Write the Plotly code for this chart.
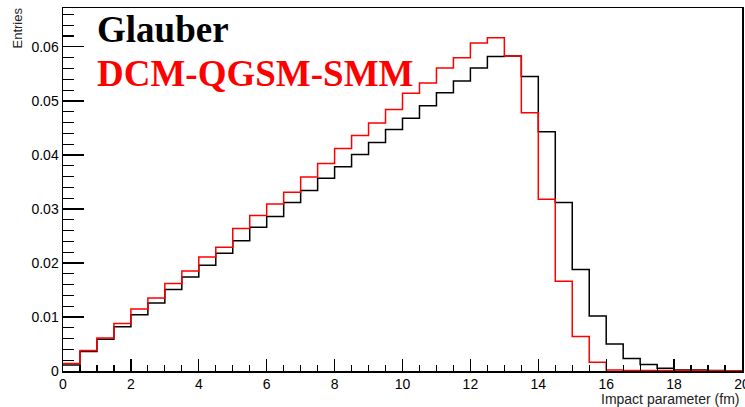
import numpy as np
import plotly.graph_objects as go

# Histogram bins: 40 bins of 0.5 fm from 0 to 20 fm
bin_low = 0.0
bin_width = 0.5
n_bins = 40

glauber = [0.0011, 0.0036, 0.0059, 0.0082, 0.0104, 0.0126, 0.0151, 0.0174,
           0.0196, 0.0218, 0.0241, 0.0266, 0.0286, 0.0312, 0.0334, 0.0357,
           0.0378, 0.0401, 0.0423, 0.0447, 0.0468, 0.0491, 0.0515, 0.0537,
           0.0561, 0.0582, 0.0583, 0.0545, 0.0443, 0.0312, 0.0188, 0.0102,
           0.0050, 0.0023, 0.0012, 0.0005, 0.0002, 0.0002, 0.0001, 0.00005]

dcm = [0.0014, 0.0038, 0.0061, 0.0088, 0.0115, 0.0135, 0.0162, 0.0185,
       0.0211, 0.0229, 0.0264, 0.0288, 0.0309, 0.0331, 0.0359, 0.0384,
       0.0412, 0.0436, 0.0459, 0.0484, 0.0514, 0.0533, 0.0561, 0.0580,
       0.0607, 0.0617, 0.0583, 0.0478, 0.0318, 0.0166, 0.0064, 0.0016,
       0.0002, 0.0001, 0.0001, 0.0001, 0.0001, 0.0001, 0.00005, 0.00005]

x_ticks = [0, 2, 4, 6, 8, 10, 12, 14, 16, 18, 20]
y_ticks = [0, 0.01, 0.02, 0.03, 0.04, 0.05, 0.06]
y_tick_text = ["0", "0.01", "0.02", "0.03", "0.04", "0.05", "0.06"]

edges = bin_low + bin_width * np.arange(n_bins + 1)


def step_xy(vals):
    xs = list(edges)
    ys = list(vals) + [vals[-1]]
    return xs, ys


fig = go.Figure()
gx, gy = step_xy(glauber)
fig.add_trace(go.Scatter(x=gx, y=gy, mode="lines", line_shape="hv",
                         line=dict(color="black", width=1.5), name="Glauber"))
dx, dy = step_xy(dcm)
fig.add_trace(go.Scatter(x=dx, y=dy, mode="lines", line_shape="hv",
                         line=dict(color="#ff0000", width=1.5), name="DCM-QGSM-SMM"))

W, H = 745, 407
L, R, T, B = 63, 3, 8, 36
pw, ph = W - L - R, H - T - B


def px(x):
    return (x - L) / pw


def py(y):
    return (H - B - y) / ph


fig.update_layout(
    width=W, height=H,
    margin=dict(l=L, r=R, t=T, b=B, autoexpand=False),
    paper_bgcolor="white", plot_bgcolor="white",
    showlegend=False,
    font=dict(family="Liberation Sans, Arial, sans-serif", size=14, color="black"),
    xaxis=dict(range=[0, 20], tickvals=x_ticks, ticks="inside", ticklen=12,
               tickwidth=1.2, tickcolor="black", showline=True, linecolor="black",
               linewidth=1.5, mirror=True, showgrid=False, zeroline=False,
               minor=dict(dtick=0.5, ticks="inside", ticklen=6, tickcolor="black",
                          tickwidth=1.2, showgrid=False),
               tickfont=dict(size=14), automargin=False, ticklabeloverflow="allow"),
    yaxis=dict(range=[0, 0.0672], tickvals=y_ticks, ticktext=y_tick_text,
               ticks="inside", ticklen=21, tickwidth=1.2, tickcolor="black",
               showline=True, linecolor="black", linewidth=1.5, mirror=True,
               showgrid=False, zeroline=False,
               minor=dict(dtick=0.002, ticks="inside", ticklen=11, tickcolor="black",
                          tickwidth=1.2, showgrid=False),
               tickfont=dict(size=14), automargin=False),
    annotations=[
        dict(text="<b>Glauber</b>", x=px(95), y=py(30), xref="paper", yref="paper",
             xanchor="left", yanchor="middle", showarrow=False,
             font=dict(family="Liberation Serif, Times New Roman, serif", size=37, color="black")),
        dict(text="<b>DCM-QGSM-SMM</b>", x=px(95), y=py(74), xref="paper", yref="paper",
             xanchor="left", yanchor="middle", showarrow=False,
             font=dict(family="Liberation Serif, Times New Roman, serif", size=37, color="#ff0000")),
        dict(text="Impact parameter (fm)", x=px(741), y=py(399), xref="paper", yref="paper",
             xanchor="right", yanchor="middle", showarrow=False,
             font=dict(size=14, color="#222222")),
        dict(text="Entries", x=px(17), y=py(6), xref="paper", yref="paper",
             xanchor="center", yanchor="top", textangle=-90, showarrow=False,
             font=dict(size=13, color="#222222")),
    ],
)

fig.write_html("out.html", config={"displayModeBar": False, "staticPlot": True},
               post_script="document.body.style.margin='0';document.body.style.overflow='hidden';")
